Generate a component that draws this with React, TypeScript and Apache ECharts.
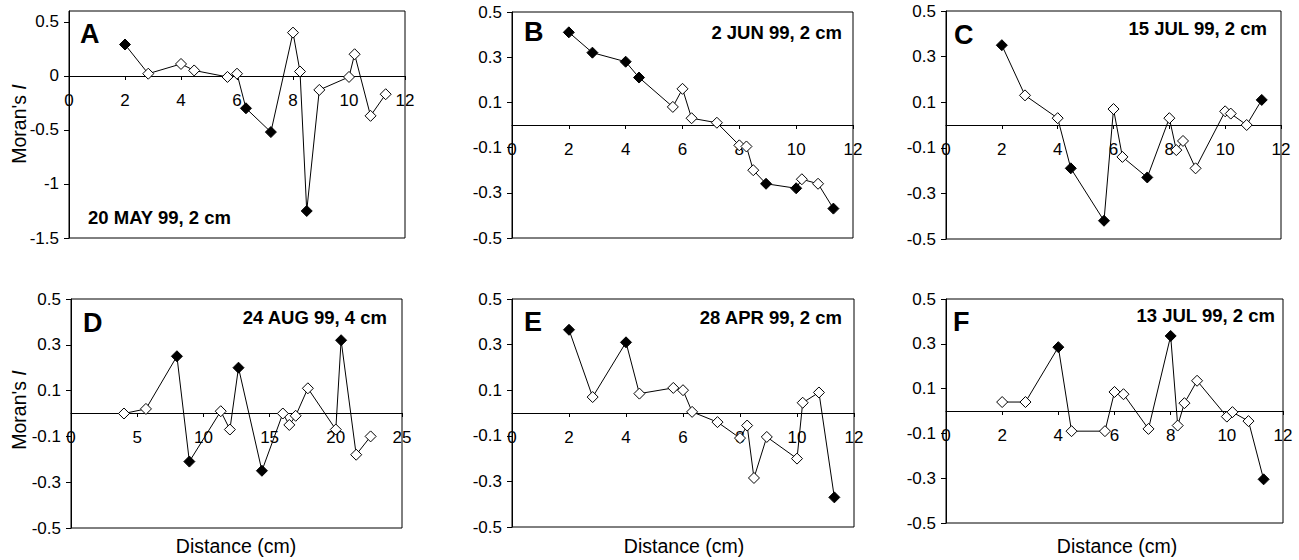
import React, { useEffect, useRef } from "react";
import * as echarts from "echarts";

// Distances (cm) for the 2-cm sampling grid panels
const dist2 = [2, 2.83, 4, 4.47, 5.66, 6, 6.32, 7.21, 8, 8.25, 8.49, 8.94, 10, 10.2, 10.77, 11.31];
// Distances (cm) for the 4-cm sampling grid panel (D)
const dist4 = [4, 5.66, 8, 8.94, 11.31, 12, 12.65, 14.42, 16, 16.49, 16.97, 17.89, 20, 20.4, 21.54, 22.63];

const moranA = [0.29, 0.02, 0.11, 0.05, -0.01, 0.02, -0.3, -0.52, 0.4, 0.04, -1.25, -0.13, -0.01, 0.2, -0.37, -0.17];
const moranB = [0.41, 0.32, 0.28, 0.21, 0.08, 0.16, 0.03, 0.01, -0.09, -0.095, -0.2, -0.26, -0.28, -0.24, -0.26, -0.37];
const moranC = [0.35, 0.13, 0.03, -0.19, -0.42, 0.07, -0.14, -0.23, 0.03, -0.11, -0.07, -0.19, 0.06, 0.05, 0.0, 0.11];
const moranD = [0.0, 0.02, 0.25, -0.21, 0.01, -0.07, 0.2, -0.25, 0.0, -0.05, -0.01, 0.11, -0.07, 0.32, -0.18, -0.1];
const moranE = [0.365, 0.07, 0.31, 0.085, 0.11, 0.1, 0.005, -0.04, -0.11, -0.055, -0.285, -0.105, -0.2, 0.045, 0.09, -0.37];
const moranF = [0.04, 0.04, 0.285, -0.09, -0.09, 0.085, 0.075, -0.08, 0.335, -0.065, 0.035, 0.135, -0.025, -0.005, -0.045, -0.305];

// 1 = significant (filled diamond), 0 = not significant (open diamond)
const sigA = [1, 0, 0, 0, 0, 0, 1, 1, 0, 0, 1, 0, 0, 0, 0, 0];
const sigB = [1, 1, 1, 1, 0, 0, 0, 0, 0, 0, 0, 1, 1, 0, 0, 1];
const sigC = [1, 0, 0, 1, 1, 0, 0, 1, 0, 0, 0, 0, 0, 0, 0, 1];
const sigD = [0, 0, 1, 1, 0, 0, 1, 1, 0, 0, 0, 0, 0, 1, 0, 0];
const sigE = [1, 0, 1, 0, 0, 0, 0, 0, 0, 0, 0, 0, 0, 0, 0, 1];
const sigF = [0, 0, 1, 0, 0, 0, 0, 0, 1, 0, 0, 0, 0, 0, 0, 1];

const letters = ["A", "B", "C", "D", "E", "F"];
const dateLabels = ["20 MAY 99, 2 cm", "2 JUN 99, 2 cm", "15 JUL 99, 2 cm", "24 AUG 99, 4 cm", "28 APR 99, 2 cm", "13 JUL 99, 2 cm"];
const yTicksA = [-1.5, -1, -0.5, 0, 0.5];

const FONT = '"Liberation Sans", Arial, Helvetica, sans-serif';

const panels = [
  { x: dist2, y: moranA, sig: sigA, xMax: 12, xInt: 2, yMin: -1.5, yMax: 0.6, yInt: 0.5, grid: { left: 69, top: 11, width: 336, height: 227 }, letter: [80, 34], date: [88, 217, "left"] },
  { x: dist2, y: moranB, sig: sigB, xMax: 12, xInt: 2, yMin: -0.5, yMax: 0.5, yInt: 0.2, grid: { left: 512, top: 12, width: 341, height: 226 }, letter: [524, 32], date: [842, 32, "right"] },
  { x: dist2, y: moranC, sig: sigC, xMax: 12, xInt: 2, yMin: -0.5, yMax: 0.5, yInt: 0.2, grid: { left: 946, top: 11, width: 335, height: 228 }, letter: [954, 35], date: [1267, 28, "right"] },
  { x: dist4, y: moranD, sig: sigD, xMax: 25, xInt: 5, yMin: -0.5, yMax: 0.5, yInt: 0.2, grid: { left: 71, top: 299, width: 331, height: 229 }, letter: [83, 323], date: [387, 317, "right"] },
  { x: dist2, y: moranE, sig: sigE, xMax: 12, xInt: 2, yMin: -0.5, yMax: 0.5, yInt: 0.2, grid: { left: 512, top: 299, width: 342, height: 228 }, letter: [524, 322], date: [842, 317, "right"] },
  { x: dist2, y: moranF, sig: sigF, xMax: 12, xInt: 2, yMin: -0.5, yMax: 0.5, yInt: 0.2, grid: { left: 946, top: 299, width: 337, height: 224 }, letter: [953, 322], date: [1275, 315, "right"] },
];

export default function App() {
  const ref = useRef<HTMLDivElement>(null);
  useEffect(() => {
    document.body.style.margin = "0";
    if (!ref.current) return;
    const chart = echarts.init(ref.current, undefined, { renderer: "svg" });

    const grids = panels.map((p) => ({
      ...p.grid,
      show: true,
      borderColor: "#000",
      borderWidth: 1,
      containLabel: false,
    }));

    const xAxes = panels.map((p, i) => ({
      type: "value",
      gridIndex: i,
      position: "bottom",
      // shift the axis up from the plot's bottom edge to the y = 0 level
      offset: -Math.round((p.grid.height * (0 - p.yMin)) / (p.yMax - p.yMin)),
      min: 0,
      max: p.xMax,
      interval: p.xInt,
      axisLine: { show: true, onZero: false, lineStyle: { color: "#000", width: 1 } },
      axisTick: { show: true, inside: false, length: 4, lineStyle: { color: "#000" } },
      axisLabel: { color: "#000", fontSize: 17, fontFamily: FONT, margin: 16 },
      splitLine: { show: false },
    }));

    const yAxes = panels.map((p, i) => {
      const base: any = {
        type: "value",
        gridIndex: i,
        min: p.yMin,
        max: p.yMax,
        interval: p.yInt,
        axisLine: { show: true, onZero: false, lineStyle: { color: "#000", width: 1 } },
        axisTick: { show: true, inside: false, length: 5, lineStyle: { color: "#000" } },
        axisLabel: { color: "#000", fontSize: 17, fontFamily: FONT, margin: 10 },
        splitLine: { show: false },
      };
      if (i === 0) {
        base.axisTick.customValues = yTicksA;
        base.axisLabel.customValues = yTicksA;
      }
      return base;
    });

    const series = panels.map((p, i) => ({
      type: "line",
      xAxisIndex: i,
      yAxisIndex: i,
      symbol: "diamond",
      symbolSize: 11,
      showAllSymbol: true,
      clip: false,
      lineStyle: { color: "#000", width: 1 },
      itemStyle: { color: "#fff", borderColor: "#000", borderWidth: 1 },
      data: p.x.map((xv, k) => ({
        value: [xv, p.y[k]],
        itemStyle: p.sig[k] ? { color: "#000", borderColor: "#000", borderWidth: 1 } : { color: "#fff", borderColor: "#000", borderWidth: 1 },
      })),
    }));

    const graphics: any[] = [];
    panels.forEach((p, i) => {
      graphics.push({
        type: "text",
        x: p.letter[0],
        y: p.letter[1],
        style: { text: letters[i], fill: "#000", font: `bold 27px ${FONT}`, align: "left", verticalAlign: "middle" },
      });
      graphics.push({
        type: "text",
        x: p.date[0],
        y: p.date[1],
        style: { text: dateLabels[i], fill: "#000", font: `bold 18.5px ${FONT}`, align: p.date[2], verticalAlign: "middle" },
      });
    });
    // y-axis titles
    [124, 410].forEach((cy) => {
      graphics.push({
        type: "text",
        x: 19,
        y: cy,
        rotation: Math.PI / 2,
        style: {
          text: "Moran's {i|I}",
          fill: "#000",
          fontSize: 19.5,
          fontFamily: FONT,
          align: "center",
          verticalAlign: "middle",
          rich: { i: { fontStyle: "italic", fontSize: 19.5, fontFamily: FONT, fill: "#000" } },
        },
      });
    });
    // x-axis titles
    [236, 684, 1117].forEach((cx) => {
      graphics.push({
        type: "text",
        x: cx,
        y: 546,
        style: { text: "Distance (cm)", fill: "#000", font: `19.5px ${FONT}`, align: "center", verticalAlign: "middle" },
      });
    });

    chart.setOption({
      animation: false,
      backgroundColor: "#fff",
      grid: grids,
      xAxis: xAxes,
      yAxis: yAxes,
      series,
      graphic: graphics,
    });
    return () => chart.dispose();
  }, []);
  return <div ref={ref} style={{ width: 1299, height: 560 }} />;
}
